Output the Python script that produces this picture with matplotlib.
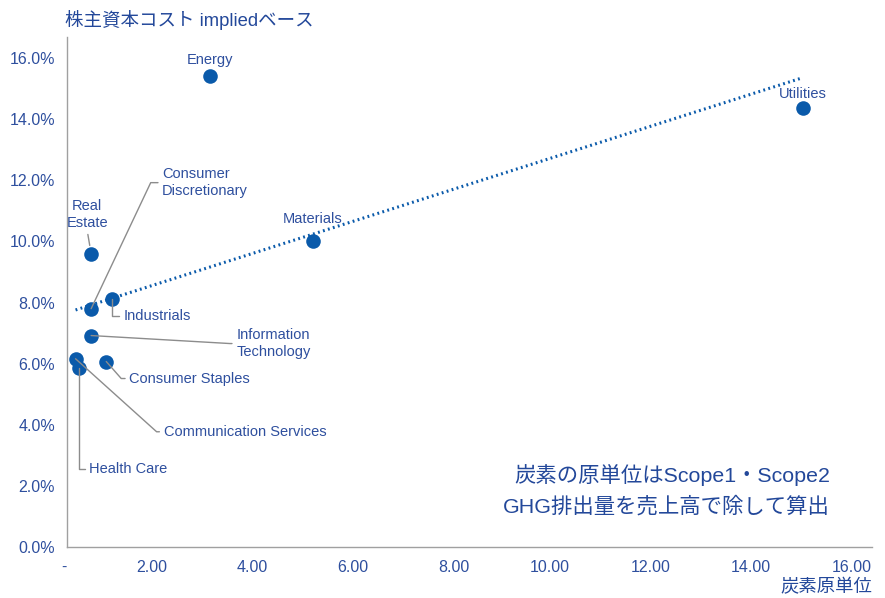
import numpy as np
import matplotlib.pyplot as plt
from matplotlib.ticker import FuncFormatter

# carbon intensity (x) vs implied cost of equity (%, y)
sectors = ["Energy", "Utilities", "Materials", "Real\nEstate", "Consumer\nDiscretionary",
           "Industrials", "Information\nTechnology", "Consumer Staples",
           "Communication Services", "Health Care"]
carbon = [2.85, 14.62, 4.88, 0.48, 0.48, 0.90, 0.48, 0.78, 0.17, 0.24]
coe = [15.41, 14.36, 10.00, 9.60, 7.80, 8.10, 6.92, 6.07, 6.16, 5.87]

x_ticks = [0, 2, 4, 6, 8, 10, 12, 14, 16]
y_ticks = [0, 2, 4, 6, 8, 10, 12, 14, 16]

# label placement: (offset px, ha, leader angle / "straight" / None)
label_style = {
    "Energy": ((0, 16), "center", None),
    "Utilities": ((0, 14), "center", None),
    "Materials": ((0, 22), "center", None),
    "Real\nEstate": ((-4, 39), "center", "straight"),
    "Consumer\nDiscretionary": ((71, 126), "left", 64.7),
    "Industrials": ((11, -17), "left", 90),
    "Information\nTechnology": ((145, -8), "left", -3.3),
    "Consumer Staples": ((23, -17), "left", -48.6),
    "Communication Services": ((88, -73), "left", -42),
    "Health Care": ((10, -101), "left", 90),
}

BLUE = "#0a5aaa"
TEXT = "#2e4f9e"
GREY = "#8c8c8c"
MIX = ["Liberation Sans", "Noto Sans CJK JP", "DejaVu Sans"]
JP = ["Noto Sans CJK JP", "DejaVu Sans"]
LAT = ["Liberation Sans", "DejaVu Sans"]

fig = plt.figure(figsize=(8.85, 5.98), dpi=100)
ax = fig.add_axes([67 / 885, 51 / 598, 805 / 885, 510 / 598])

ax.scatter(carbon, coe, s=110, color=BLUE, zorder=3, linewidths=0)

# linear trendline over the data range
slope, intercept = np.polyfit(carbon, coe, 1)
xs = np.array([min(carbon), max(carbon)])
ax.plot(xs, slope * xs + intercept, color=BLUE, lw=2.2, ls=(0, (0.6, 1.1)),
        dash_capstyle="butt", zorder=2)

for name, x, y in zip(sectors, carbon, coe):
    off, ha, leader = label_style[name]
    kw = dict(textcoords="offset pixels", xytext=off, ha=ha, va="center",
              fontsize=10.5, color=TEXT, family=LAT, linespacing=1.3,
              multialignment=ha)
    if leader is None:
        ax.annotate(name, (x, y), **kw)
    elif leader == "straight":
        ax.annotate(name, (x, y), arrowprops=dict(arrowstyle="-", color=GREY, lw=1,
                                                  relpos=(0.5, 0), shrinkA=1, shrinkB=6),
                    **kw)
    else:
        ax.annotate(name, (x, y), arrowprops=dict(
            arrowstyle="-", color=GREY, lw=1, relpos=(0, 0.5), shrinkA=1, shrinkB=0,
            connectionstyle=f"angle,angleA=0,angleB={leader},rad=0"), **kw)

ax.set_xlim(0, 16)
ax.set_ylim(0, 16.69)
ax.set_xticks(x_ticks)
ax.set_yticks(y_ticks)
ax.xaxis.set_major_formatter(FuncFormatter(lambda v, p: "-" if v == 0 else f"{v:.2f}"))
ax.yaxis.set_major_formatter(FuncFormatter(lambda v, p: f"{v:.1f}%"))
ax.tick_params(length=0, colors=TEXT, labelsize=11.5)
ax.tick_params(axis="x", pad=9)
ax.tick_params(axis="y", pad=8.5)
for lab in ax.get_xticklabels():
    lab.set_ha("right")
    lab.set_family(LAT)
for lab in ax.get_yticklabels():
    lab.set_family(LAT)

for side in ["top", "right"]:
    ax.spines[side].set_visible(False)
for side in ["left", "bottom"]:
    ax.spines[side].set_color("#a0a0a0")
    ax.spines[side].set_linewidth(1)

fig.text(65 / 885, 1 - 20 / 598, "株主資本コスト impliedベース", family=MIX, fontsize=13.3,
         color="#23489a", ha="left", va="center")
fig.text(872 / 885, 1 - 587 / 598, "炭素原単位", family=JP, fontsize=13.2,
         color="#23489a", ha="right", va="center")
fig.text(830 / 885, 1 - 490 / 598, "炭素の原単位はScope1・Scope2\nGHG排出量を売上高で除して算出",
         family=MIX, fontsize=15.4, color="#23489a", ha="right", va="center",
         multialignment="right", linespacing=1.6)

fig.savefig("out.png", dpi=100)
